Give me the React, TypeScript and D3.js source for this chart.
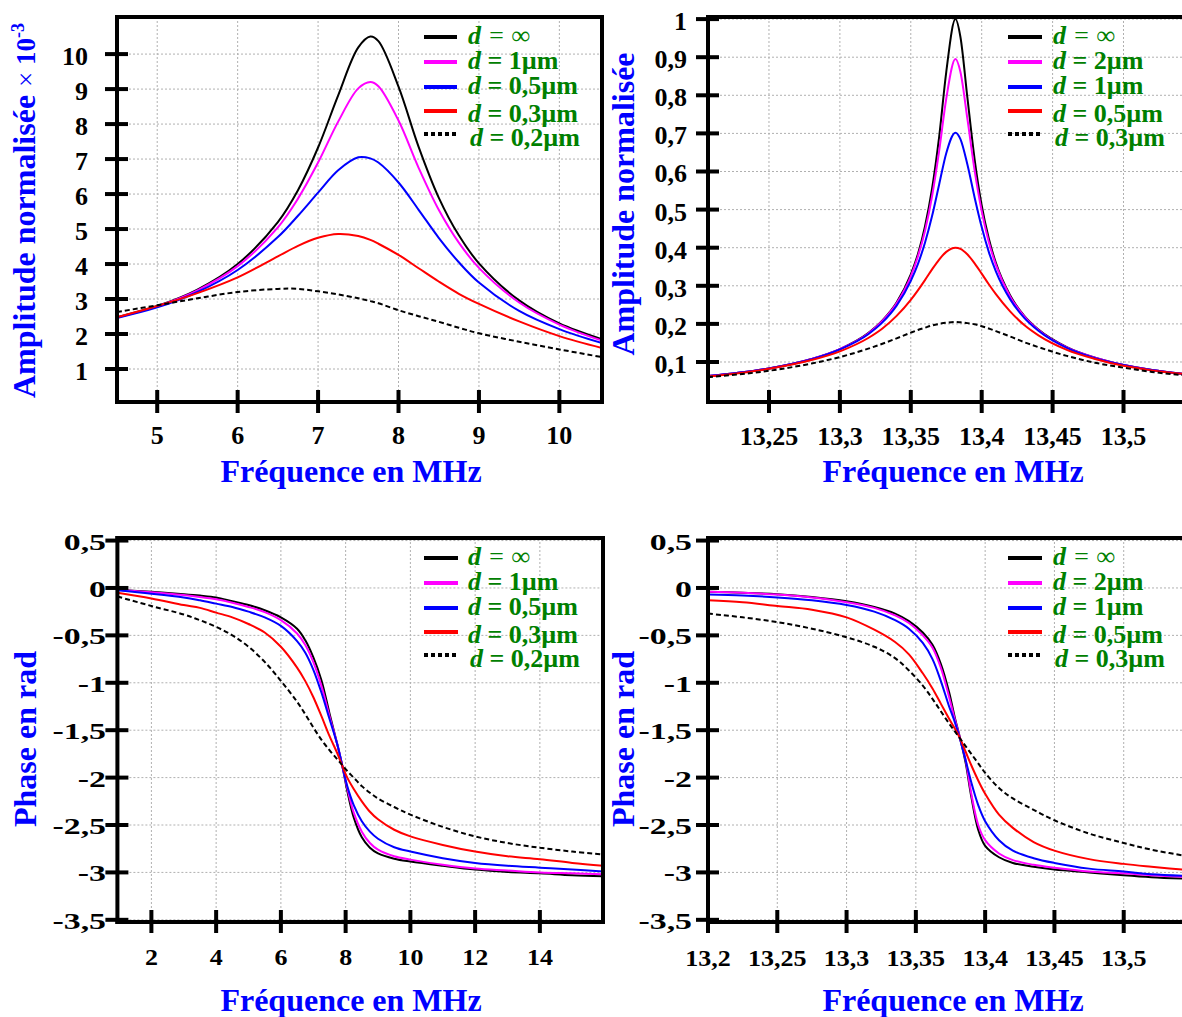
import React from "react";
import * as d3 from "d3";

// ---------- DATA ----------
// Top-left: amplitude (x10^-3) vs frequency (MHz)
const ampLowFreq = [4.5, 5, 5.5, 6, 6.5, 6.75, 7, 7.25, 7.5, 7.65, 7.75, 8, 8.25, 8.5, 8.75, 9, 9.5, 10, 10.53];
const ampLowInf = [2.48, 2.8, 3.27, 4.0, 5.2, 6.11, 7.33, 8.82, 10.19, 10.5, 10.37, 9.07, 7.35, 5.9, 4.82, 4.02, 2.96, 2.3, 1.85];
const ampLow1um = [2.47, 2.79, 3.25, 3.94, 5.05, 5.87, 6.9, 8.07, 9.02, 9.2, 9.08, 8.1, 6.75, 5.55, 4.61, 3.89, 2.9, 2.27, 1.81];
const ampLow05um = [2.46, 2.76, 3.2, 3.83, 4.77, 5.38, 6.04, 6.68, 7.05, 7.02, 6.9, 6.33, 5.55, 4.75, 4.05, 3.47, 2.66, 2.14, 1.74];
const ampLow03um = [2.48, 2.8, 3.17, 3.62, 4.22, 4.52, 4.75, 4.86, 4.8, 4.69, 4.58, 4.26, 3.88, 3.5, 3.15, 2.86, 2.36, 1.94, 1.6];
const ampLow02um = [2.63, 2.82, 3.02, 3.2, 3.29, 3.29, 3.22, 3.13, 3.02, 2.94, 2.88, 2.68, 2.51, 2.35, 2.18, 2.02, 1.78, 1.56, 1.34];

// Top-right: normalised amplitude vs frequency (MHz)
const ampHighFreq = [13.207, 13.25, 13.28, 13.3, 13.32, 13.33, 13.34, 13.35, 13.355, 13.36, 13.365, 13.37, 13.375, 13.3815, 13.385, 13.39, 13.395, 13.4, 13.405, 13.41, 13.42, 13.43, 13.44, 13.46, 13.48, 13.5, 13.52, 13.549];
const ampHighInf = [0.063, 0.083, 0.108, 0.134, 0.176, 0.209, 0.256, 0.33, 0.383, 0.456, 0.555, 0.691, 0.861, 1.0, 0.953, 0.791, 0.632, 0.511, 0.424, 0.36, 0.275, 0.221, 0.185, 0.139, 0.111, 0.092, 0.079, 0.066];
const ampHigh2um = [0.063, 0.083, 0.108, 0.134, 0.175, 0.208, 0.254, 0.325, 0.377, 0.444, 0.535, 0.654, 0.791, 0.895, 0.861, 0.736, 0.603, 0.496, 0.415, 0.355, 0.272, 0.22, 0.184, 0.138, 0.111, 0.092, 0.079, 0.066];
const ampHigh1um = [0.063, 0.083, 0.107, 0.133, 0.173, 0.204, 0.248, 0.313, 0.357, 0.413, 0.483, 0.566, 0.648, 0.702, 0.685, 0.617, 0.532, 0.454, 0.389, 0.338, 0.265, 0.216, 0.182, 0.137, 0.11, 0.092, 0.079, 0.066];
const ampHigh05um = [0.062, 0.082, 0.105, 0.128, 0.163, 0.188, 0.221, 0.263, 0.288, 0.315, 0.343, 0.369, 0.389, 0.4, 0.397, 0.382, 0.359, 0.332, 0.304, 0.278, 0.233, 0.197, 0.17, 0.132, 0.108, 0.09, 0.078, 0.066];
const ampHigh03um = [0.06, 0.077, 0.096, 0.113, 0.135, 0.148, 0.162, 0.177, 0.184, 0.19, 0.196, 0.2, 0.203, 0.205, 0.204, 0.202, 0.199, 0.194, 0.188, 0.181, 0.167, 0.152, 0.139, 0.116, 0.098, 0.085, 0.074, 0.063];

// Bottom-left: phase (rad) vs frequency (MHz)
const phaseLowFreq = [0.95, 2, 3, 3.5, 4, 4.5, 5, 5.5, 6, 6.5, 6.75, 7, 7.25, 7.5, 7.75, 7.9, 8.05, 8.25, 8.5, 8.75, 9, 9.5, 10, 11, 12, 13, 14, 15, 15.95];
const phaseLowInf = [-0.02, -0.04, -0.065, -0.08, -0.1, -0.14, -0.18, -0.235, -0.31, -0.43, -0.55, -0.73, -0.97, -1.32, -1.66, -1.88, -2.14, -2.42, -2.63, -2.74, -2.8, -2.855, -2.885, -2.93, -2.97, -2.995, -3.01, -3.03, -3.04];
const phaseLow1um = [-0.02, -0.045, -0.075, -0.095, -0.12, -0.155, -0.2, -0.255, -0.34, -0.48, -0.6, -0.78, -1.03, -1.35, -1.66, -1.88, -2.11, -2.37, -2.57, -2.69, -2.76, -2.83, -2.865, -2.92, -2.96, -2.98, -3.0, -3.01, -3.02];
const phaseLow05um = [-0.025, -0.06, -0.1, -0.13, -0.165, -0.2, -0.25, -0.31, -0.4, -0.56, -0.68, -0.86, -1.1, -1.38, -1.66, -1.88, -2.09, -2.29, -2.46, -2.57, -2.645, -2.735, -2.78, -2.85, -2.9, -2.93, -2.95, -2.97, -2.99];
const phaseLow03um = [-0.05, -0.11, -0.18, -0.21, -0.26, -0.31, -0.38, -0.47, -0.62, -0.84, -0.98, -1.15, -1.35, -1.56, -1.75, -1.88, -2.0, -2.12, -2.25, -2.36, -2.44, -2.55, -2.62, -2.71, -2.78, -2.83, -2.86, -2.9, -2.93];
const phaseLow02um = [-0.09, -0.19, -0.28, -0.34, -0.41, -0.5, -0.62, -0.78, -0.98, -1.2, -1.33, -1.47, -1.6, -1.71, -1.81, -1.87, -1.93, -2.0, -2.09, -2.16, -2.22, -2.31, -2.39, -2.52, -2.62, -2.69, -2.74, -2.78, -2.81];

// Bottom-right: phase (rad) vs frequency (MHz)
const phaseHighFreq = [13.2, 13.225, 13.25, 13.275, 13.3, 13.32, 13.335, 13.345, 13.355, 13.362, 13.368, 13.374, 13.378, 13.382, 13.386, 13.39, 13.395, 13.4, 13.41, 13.42, 13.435, 13.45, 13.475, 13.5, 13.52, 13.55];
const phaseHighInf = [-0.04, -0.05, -0.065, -0.095, -0.14, -0.2, -0.27, -0.35, -0.47, -0.6, -0.8, -1.1, -1.36, -1.59, -1.85, -2.2, -2.55, -2.72, -2.84, -2.9, -2.94, -2.97, -3.0, -3.03, -3.05, -3.07];
const phaseHigh2um = [-0.04, -0.05, -0.07, -0.1, -0.15, -0.21, -0.29, -0.37, -0.5, -0.63, -0.84, -1.15, -1.38, -1.59, -1.82, -2.17, -2.5, -2.66, -2.8, -2.87, -2.92, -2.95, -2.99, -3.01, -3.03, -3.05];
const phaseHigh1um = [-0.07, -0.08, -0.1, -0.13, -0.18, -0.25, -0.34, -0.43, -0.58, -0.75, -0.98, -1.25, -1.41, -1.6, -1.82, -2.05, -2.29, -2.46, -2.66, -2.77, -2.85, -2.9, -2.96, -2.99, -3.02, -3.04];
const phaseHigh05um = [-0.13, -0.15, -0.19, -0.23, -0.31, -0.44, -0.57, -0.7, -0.9, -1.06, -1.22, -1.38, -1.48, -1.59, -1.73, -1.87, -2.03, -2.17, -2.39, -2.53, -2.68, -2.77, -2.86, -2.91, -2.94, -2.98];
const phaseHigh03um = [-0.27, -0.31, -0.36, -0.43, -0.52, -0.62, -0.74, -0.87, -1.03, -1.17, -1.3, -1.43, -1.51, -1.59, -1.67, -1.75, -1.85, -1.95, -2.11, -2.22, -2.34, -2.45, -2.59, -2.69, -2.76, -2.84];

// Ticks
const ampLowXTicks = [5, 6, 7, 8, 9, 10];
const ampLowYTicks = [1, 2, 3, 4, 5, 6, 7, 8, 9, 10];
const ampHighXTicks = [13.25, 13.3, 13.35, 13.4, 13.45, 13.5];
const ampHighYTicks = [0.1, 0.2, 0.3, 0.4, 0.5, 0.6, 0.7, 0.8, 0.9, 1];
const phaseLowXTicks = [2, 4, 6, 8, 10, 12, 14];
const phaseHighXTicks = [13.2, 13.25, 13.3, 13.35, 13.4, 13.45, 13.5];
const phaseYTicks = [0.5, 0, -0.5, -1, -1.5, -2, -2.5, -3, -3.5];

// Legends
const legendLow = ["∞", "1µm", "0,5µm", "0,3µm", "0,2µm"];
const legendHigh = ["∞", "2µm", "1µm", "0,5µm", "0,3µm"];

const xTitle = "Fréquence en MHz";

// ---------- STYLE ----------
const FONT = '"Liberation Serif", "Times New Roman", Times, serif';
const COLORS = ["#000000", "#ff00ff", "#0000ff", "#ff0000", "#000000"];
const BLUE = "#0000ff";
const GREEN = "#008000";

const fmt = (v: number) => String(v).replace(".", ",");

type Cfg = {
  id: string;
  freq: number[];
  series: number[][];
  legend: string[];
  xTicks: number[];
  yTicks: number[];
  xDomain: [number, number];
  xRange: [number, number];
  yDomain: [number, number];
  yRange: [number, number];
  yLabelRight: number;
  yLabelDy: number;
  yLabelScale: [number, number];
  xLabelScaleY: number;
  xLabelBaseline: number;
  xTitlePos: [number, number];
  yTitle: React.ReactNode;
  legendX: [number, number, number];
  rightBorder: boolean;
  smooth: boolean;
};

function Panel({ cfg }: { cfg: Cfg }) {
  const x = d3.scaleLinear().domain(cfg.xDomain).range(cfg.xRange);
  const y = d3.scaleLinear().domain(cfg.yDomain).range(cfg.yRange);
  const line = d3
    .line<number>()
    .x((_, i) => x(cfg.freq[i]))
    .y((d) => y(d))
    .curve(cfg.smooth ? d3.curveCatmullRom.alpha(0.5) : d3.curveMonotoneX);
  const [L, R] = cfg.xRange;
  const [B, T] = cfg.yRange;
  const clipId = `clip-${cfg.id}`;
  const legLines = [20, 45, 70, 94, 117];
  const legText = [27, 52, 77, 105, 129];
  const [lx1, lx2, tx] = cfg.legendX;
  return (
    <g>
      <defs>
        <clipPath id={clipId}>
          <rect x={L} y={T} width={R - L} height={B - T} />
        </clipPath>
      </defs>
      {/* grid */}
      <g stroke="#b0b0b0" strokeWidth={1} strokeDasharray="2,2">
        {cfg.xTicks.map((v) => (
          <line key={"gx" + v} x1={x(v)} x2={x(v)} y1={T} y2={B} />
        ))}
        {cfg.yTicks.map((v) => (
          <line key={"gy" + v} x1={L} x2={R} y1={y(v)} y2={y(v)} />
        ))}
      </g>
      {/* curves */}
      <g clipPath={`url(#${clipId})`} fill="none">
        {cfg.series.map((s, i) => (
          <path
            key={"s" + i}
            d={line(s) || ""}
            stroke={COLORS[i]}
            strokeWidth={2}
            strokeDasharray={i === 4 ? "5,3" : undefined}
          />
        ))}
      </g>
      {/* frame */}
      <g stroke="#000" strokeWidth={4} strokeLinecap="square">
        <line x1={L} x2={L} y1={T} y2={B} />
        <line x1={L} x2={R} y1={B} y2={B} />
        <line x1={L} x2={R} y1={T} y2={T} />
        {cfg.rightBorder && <line x1={R} x2={R} y1={T} y2={B} />}
      </g>
      {/* ticks */}
      <g stroke="#000" strokeWidth={4}>
        {cfg.xTicks.map((v) => (
          <line key={"tx" + v} x1={x(v)} x2={x(v)} y1={B - 12} y2={B + 11} />
        ))}
        {cfg.yTicks.map((v) => (
          <line key={"ty" + v} x1={L - 12} x2={L + 11} y1={y(v)} y2={y(v)} />
        ))}
      </g>
      {/* tick labels */}
      <g fontFamily={FONT} fontWeight="bold" fontSize={26} fill="#000">
        {cfg.xTicks.map((v) => (
          <text
            key={"lx" + v}
            transform={`translate(${x(v)},${cfg.xLabelBaseline}) scale(1,${cfg.xLabelScaleY})`}
            textAnchor="middle"
          >
            {fmt(v)}
          </text>
        ))}
        {cfg.yTicks.map((v) => (
          <text
            key={"ly" + v}
            transform={`translate(${cfg.yLabelRight},${y(v) + cfg.yLabelDy}) scale(${cfg.yLabelScale[0]},${cfg.yLabelScale[1]})`}
            textAnchor="end"
          >
            {fmt(v)}
          </text>
        ))}
      </g>
      {/* axis titles */}
      <text
        x={cfg.xTitlePos[0]}
        y={cfg.xTitlePos[1]}
        textAnchor="middle"
        fontFamily={FONT}
        fontWeight="bold"
        fontSize={32}
        fill={BLUE}
      >
        {xTitle}
      </text>
      {cfg.yTitle}
      {/* legend */}
      <g>
        {cfg.legend.map((lab, i) => (
          <g key={"leg" + i}>
            <line
              x1={lx1}
              x2={lx2}
              y1={T + legLines[i]}
              y2={T + legLines[i]}
              stroke={COLORS[i]}
              strokeWidth={4}
              strokeDasharray={i === 4 ? "4,3" : undefined}
            />
            <text
              x={tx + (i === 4 ? 2 : 0)}
              y={T + legText[i]}
              fontFamily={FONT}
              fontSize={26}
              fontWeight="bold"
              fill={GREEN}
            >
              <tspan fontStyle="italic">d</tspan>
              {i === 0 ? (
                <tspan fontWeight="normal" fontStyle="italic">{" = " + lab}</tspan>
              ) : (
                <tspan>{" = " + lab}</tspan>
              )}
            </text>
          </g>
        ))}
      </g>
    </g>
  );
}

function YTitle({ x, y, anchor, children }: { x: number; y: number; anchor: string; children: React.ReactNode }) {
  return (
    <text
      transform={`translate(${x},${y}) rotate(-90)`}
      textAnchor={anchor}
      fontFamily={FONT}
      fontWeight="bold"
      fontSize={32}
      fill={BLUE}
    >
      {children}
    </text>
  );
}

export default function App() {
  const panels: Cfg[] = [
    {
      id: "a",
      freq: ampLowFreq,
      series: [ampLowInf, ampLow1um, ampLow05um, ampLow03um, ampLow02um],
      legend: legendLow,
      xTicks: ampLowXTicks,
      yTicks: ampLowYTicks,
      xDomain: [4.5, 10.53],
      xRange: [117, 602],
      yDomain: [0.057, 11.06],
      yRange: [402, 17],
      yLabelRight: 88,
      yLabelDy: 11,
      yLabelScale: [1, 1],
      xLabelScaleY: 1,
      xLabelBaseline: 444,
      xTitlePos: [351, 482],
      yTitle: (
        <YTitle x={35} y={398} anchor="start">
          Amplitude normalisée{" "}
          <tspan fontSize={27} fontWeight="normal">×</tspan>
          <tspan fontSize={27}> 10</tspan>
          <tspan fontSize={18} dy={-11}>-3</tspan>
        </YTitle>
      ),
      legendX: [424, 457, 468],
      rightBorder: true,
      smooth: true,
    },
    {
      id: "b",
      freq: ampHighFreq,
      series: [ampHighInf, ampHigh2um, ampHigh1um, ampHigh05um, ampHigh03um],
      legend: legendHigh,
      xTicks: ampHighXTicks,
      yTicks: ampHighYTicks,
      xDomain: [13.207, 13.549],
      xRange: [708, 1193],
      yDomain: [-0.005, 1.0055],
      yRange: [402, 17],
      yLabelRight: 687,
      yLabelDy: 11,
      yLabelScale: [1, 1],
      xLabelScaleY: 1,
      xLabelBaseline: 445,
      xTitlePos: [953, 482],
      yTitle: (
        <YTitle x={634} y={204} anchor="middle">
          Amplitude normalisée
        </YTitle>
      ),
      legendX: [1008, 1042, 1053],
      rightBorder: false,
      smooth: false,
    },
    {
      id: "c",
      freq: phaseLowFreq,
      series: [phaseLowInf, phaseLow1um, phaseLow05um, phaseLow03um, phaseLow02um],
      legend: legendLow,
      xTicks: phaseLowXTicks,
      yTicks: phaseYTicks,
      xDomain: [0.95, 15.95],
      xRange: [117.4, 603],
      yDomain: [-3.523, 0.527],
      yRange: [922, 538],
      yLabelRight: 106,
      yLabelDy: 9,
      yLabelScale: [1.3, 0.87],
      xLabelScaleY: 0.87,
      xLabelBaseline: 965,
      xTitlePos: [351, 1011],
      yTitle: (
        <YTitle x={36} y={739} anchor="middle">
          Phase en rad
        </YTitle>
      ),
      legendX: [424, 458, 468],
      rightBorder: true,
      smooth: true,
    },
    {
      id: "d",
      freq: phaseHighFreq,
      series: [phaseHighInf, phaseHigh2um, phaseHigh1um, phaseHigh05um, phaseHigh03um],
      legend: legendHigh,
      xTicks: phaseHighXTicks,
      yTicks: phaseYTicks,
      xDomain: [13.2, 13.55],
      xRange: [708, 1193],
      yDomain: [-3.523, 0.527],
      yRange: [922, 538],
      yLabelRight: 692,
      yLabelDy: 9,
      yLabelScale: [1.3, 0.87],
      xLabelScaleY: 0.87,
      xLabelBaseline: 966,
      xTitlePos: [953, 1011],
      yTitle: (
        <YTitle x={634} y={739} anchor="middle">
          Phase en rad
        </YTitle>
      ),
      legendX: [1008, 1042, 1053],
      rightBorder: false,
      smooth: true,
    },
  ];
  return (
    <svg
      width={1182}
      height={1017}
      viewBox="0 0 1182 1017"
      style={{ position: "absolute", left: 0, top: 0, background: "#fff" }}
    >
      <rect x={0} y={0} width={1182} height={1017} fill="#fff" />
      {panels.map((p) => (
        <Panel key={p.id} cfg={p} />
      ))}
    </svg>
  );
}
